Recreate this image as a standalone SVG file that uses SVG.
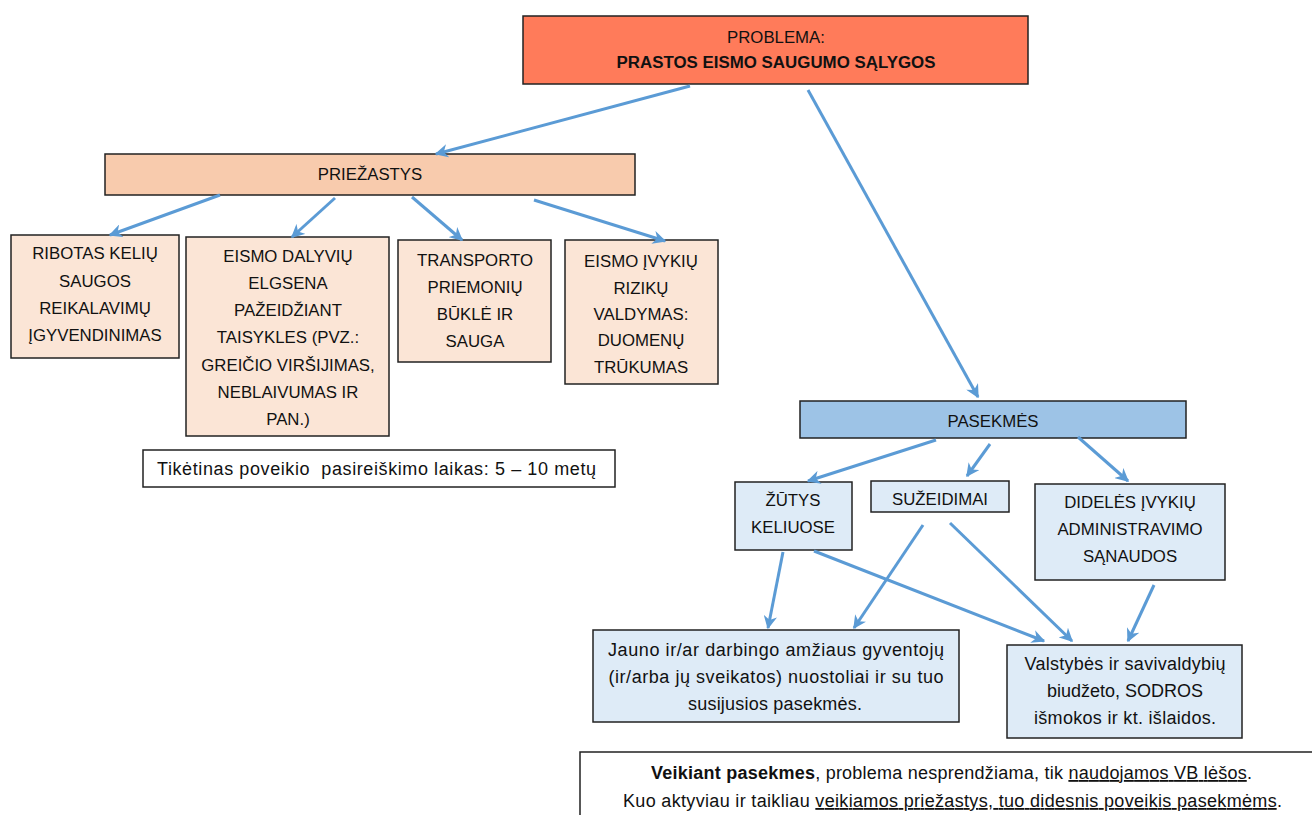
<svg xmlns="http://www.w3.org/2000/svg" width="1312" height="815" viewBox="0 0 1312 815">
<defs>
<marker id="ah" viewBox="0 0 10 10" refX="9" refY="5" markerWidth="4.5" markerHeight="4.5" orient="auto" markerUnits="strokeWidth">
<path d="M0,0 L10,5 L0,10 L3,5 z" fill="#5B9BD5"/>
</marker>
</defs>
<style>
text{font-family:"Liberation Sans",Arial,sans-serif;font-size:16.8px;fill:#111;text-anchor:middle}
text.l{font-size:18px}
.b{stroke:#222;stroke-width:1.5}
.red{fill:#FF7B5A}
.or{fill:#F8CBAD}
.lo{fill:#FBE5D6}
.bl{fill:#9DC3E6}
.lb{fill:#DEEBF7}
.w{fill:#fff}
.c line{stroke:#5B9BD5;stroke-width:3;marker-end:url(#ah)}
</style>
<rect width="1312" height="815" fill="#fff"/>
<g id="problem">
<rect class="b red" x="523" y="16" width="505" height="68"/>
<text x="776" y="43">PROBLEMA:</text>
<text x="776" y="68" font-weight="bold" textLength="319" lengthAdjust="spacingAndGlyphs">PRASTOS EISMO SAUGUMO SĄLYGOS</text>
</g>
<g id="priezastys">
<rect class="b or" x="105" y="154" width="530" height="41"/>
<text x="370" y="180">PRIEŽASTYS</text>
</g>
<g id="c1">
<rect class="b lo" x="11" y="235" width="168" height="123"/>
<text x="95" y="259">RIBOTAS KELIŲ</text>
<text x="95" y="287">SAUGOS</text>
<text x="95" y="314">REIKALAVIMŲ</text>
<text x="95" y="341">ĮGYVENDINIMAS</text>
</g>
<g id="c2">
<rect class="b lo" x="186" y="237" width="203" height="199"/>
<text x="288" y="262">EISMO DALYVIŲ</text>
<text x="288" y="289">ELGSENA</text>
<text x="288" y="316">PAŽEIDŽIANT</text>
<text x="288" y="343">TAISYKLES (PVZ.:</text>
<text x="288" y="371">GREIČIO VIRŠIJIMAS,</text>
<text x="288" y="398">NEBLAIVUMAS IR</text>
<text x="288" y="425">PAN.)</text>
</g>
<g id="c3">
<rect class="b lo" x="398" y="240" width="153" height="122"/>
<text x="475" y="266">TRANSPORTO</text>
<text x="475" y="293">PRIEMONIŲ</text>
<text x="475" y="320">BŪKLĖ IR</text>
<text x="475" y="347">SAUGA</text>
</g>
<g id="c4">
<rect class="b lo" x="565" y="240" width="153" height="144"/>
<text x="641" y="267">EISMO ĮVYKIŲ</text>
<text x="641" y="294">RIZIKŲ</text>
<text x="641" y="320">VALDYMAS:</text>
<text x="641" y="346">DUOMENŲ</text>
<text x="641" y="373">TRŪKUMAS</text>
</g>
<g id="laikas">
<rect class="b w" x="143" y="450" width="472" height="37"/>
<text class="l" x="157" y="475" style="text-anchor:start" textLength="439">Tikėtinas poveikio &#160;pasireiškimo laikas: 5 – 10 metų</text>
</g>
<g id="pasekmes">
<rect class="b bl" x="800" y="401" width="386" height="37"/>
<text x="993" y="427">PASEKMĖS</text>
</g>
<g id="zutys">
<rect class="b lb" x="735" y="482" width="117" height="68"/>
<text x="793" y="506">ŽŪTYS</text>
<text x="793" y="533">KELIUOSE</text>
</g>
<g id="suzeidimai">
<rect class="b lb" x="871" y="481" width="138" height="31"/>
<text x="940" y="505">SUŽEIDIMAI</text>
</g>
<g id="dideles">
<rect class="b lb" x="1035" y="484" width="190" height="96"/>
<text x="1130" y="508">DIDELĖS ĮVYKIŲ</text>
<text x="1130" y="535">ADMINISTRAVIMO</text>
<text x="1130" y="562">SĄNAUDOS</text>
</g>
<g id="jauno">
<rect class="b lb" x="593" y="630" width="366" height="92"/>
<text class="l" x="776" y="656" textLength="336">Jauno ir/ar darbingo amžiaus gyventojų</text>
<text class="l" x="776" y="683" textLength="335">(ir/arba jų sveikatos) nuostoliai ir su tuo</text>
<text class="l" x="775" y="710" textLength="174">susijusios pasekmės.</text>
</g>
<g id="valstybes">
<rect class="b lb" x="1007" y="645" width="235" height="93"/>
<text class="l" x="1125" y="670" textLength="201">Valstybės ir savivaldybių</text>
<text class="l" x="1125" y="697">biudžeto, SODROS</text>
<text class="l" x="1125" y="724" textLength="182">išmokos ir kt. išlaidos.</text>
</g>
<g id="isvada">
<rect class="b w" x="580" y="752" width="740" height="70"/>
<text class="l" x="951.5" y="779" textLength="601"><tspan font-weight="bold">Veikiant pasekmes</tspan>, problema nesprendžiama, tik <tspan text-decoration="underline">naudojamos VB lėšos</tspan>.</text>
<text class="l" x="952.5" y="807" textLength="659">Kuo aktyviau ir taikliau <tspan text-decoration="underline">veikiamos priežastys, tuo didesnis poveikis pasekmėms</tspan>.</text>
</g>
<g class="c" id="connectors">
<line x1="690" y1="86" x2="436" y2="154"/>
<line x1="808" y1="90" x2="978" y2="397"/>
<line x1="220" y1="195" x2="110" y2="235"/>
<line x1="335" y1="198" x2="292" y2="237"/>
<line x1="412" y1="197" x2="462" y2="240"/>
<line x1="534" y1="200" x2="665" y2="241"/>
<line x1="936" y1="440" x2="808" y2="481"/>
<line x1="990" y1="444" x2="967" y2="476"/>
<line x1="1078" y1="437" x2="1128" y2="481"/>
<line x1="783" y1="552" x2="768" y2="628"/>
<line x1="814" y1="551" x2="1044" y2="641"/>
<line x1="923" y1="525" x2="854" y2="628"/>
<line x1="950" y1="523" x2="1072" y2="641"/>
<line x1="1154" y1="585" x2="1128" y2="641"/>
</g>
</svg>
